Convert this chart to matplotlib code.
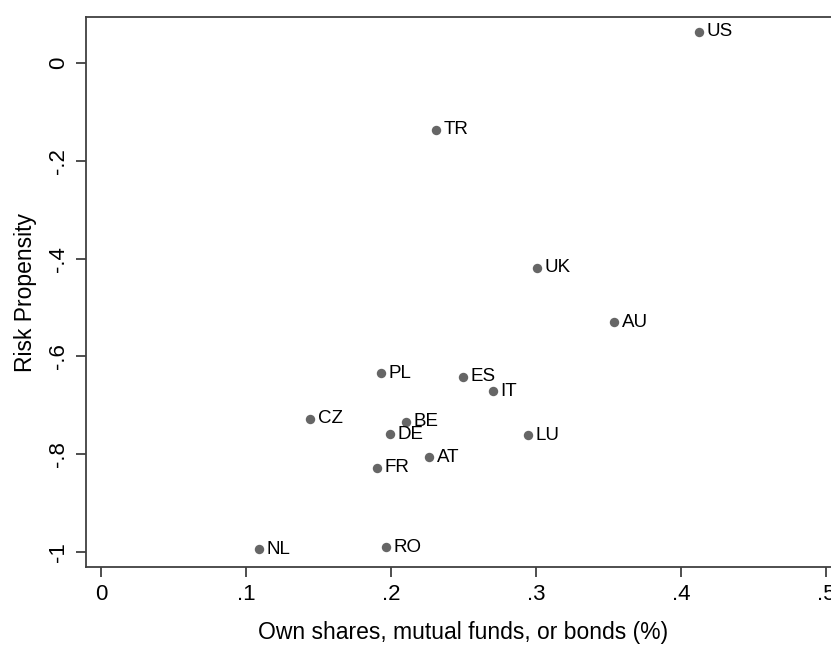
import matplotlib
matplotlib.use("Agg")
import matplotlib.pyplot as plt

countries = ["US", "TR", "UK", "AU", "PL", "ES", "IT", "CZ", "BE", "DE", "LU", "AT", "FR", "NL", "RO"]
shares = [0.4124, 0.231, 0.3007, 0.3538, 0.1931, 0.2497, 0.2703, 0.1441, 0.2103, 0.1993, 0.2945, 0.2262, 0.1903, 0.1090, 0.1966]
risk = [0.0634, -0.137, -0.419, -0.530, -0.634, -0.642, -0.671, -0.728, -0.734, -0.759, -0.761, -0.806, -0.828, -0.994, -0.990]

xticks = [0, 0.1, 0.2, 0.3, 0.4, 0.5]
xticklabels = ["0", ".1", ".2", ".3", ".4", ".5"]
yticks = [0, -0.2, -0.4, -0.6, -0.8, -1.0]
yticklabels = ["0", "-.2", "-.4", "-.6", "-.8", "-1"]

plt.rcParams['font.family'] = ['Liberation Sans', 'DejaVu Sans']

fig = plt.figure(figsize=(8.31, 6.48), dpi=100)
ax = fig.add_axes([86/831, 81/648, 754/831, 550/648])

ax.scatter(shares, risk, s=46, color="#666666", zorder=3, linewidths=0)
for c, x, y in zip(countries, shares, risk):
    ax.annotate(c, (x, y), xytext=(5.5, 0), textcoords="offset points",
                ha="left", va="center", fontsize=13.5, color="black")

ax.set_xlim(-0.0103, 0.5097)
ax.set_ylim(-1.0307, 0.094)
ax.set_xticks(xticks)
ax.set_xticklabels(xticklabels)
ax.set_yticks(yticks)
ax.set_yticklabels(yticklabels, rotation=90, va="center")

spine_color = "#404040"
for side in ["left", "right", "top", "bottom"]:
    ax.spines[side].set_color(spine_color)
    ax.spines[side].set_linewidth(1.3)

ax.tick_params(axis="both", direction="out", length=7, width=1.3, color=spine_color,
               labelsize=16, labelcolor="black")
ax.tick_params(axis="x", pad=5)
ax.tick_params(axis="y", pad=5)

ax.set_xlabel("Own shares, mutual funds, or bonds (%)", fontsize=16.5, labelpad=12)
ax.set_ylabel("Risk Propensity", fontsize=16.5, labelpad=8)

fig.savefig("out.png", dpi=100)
